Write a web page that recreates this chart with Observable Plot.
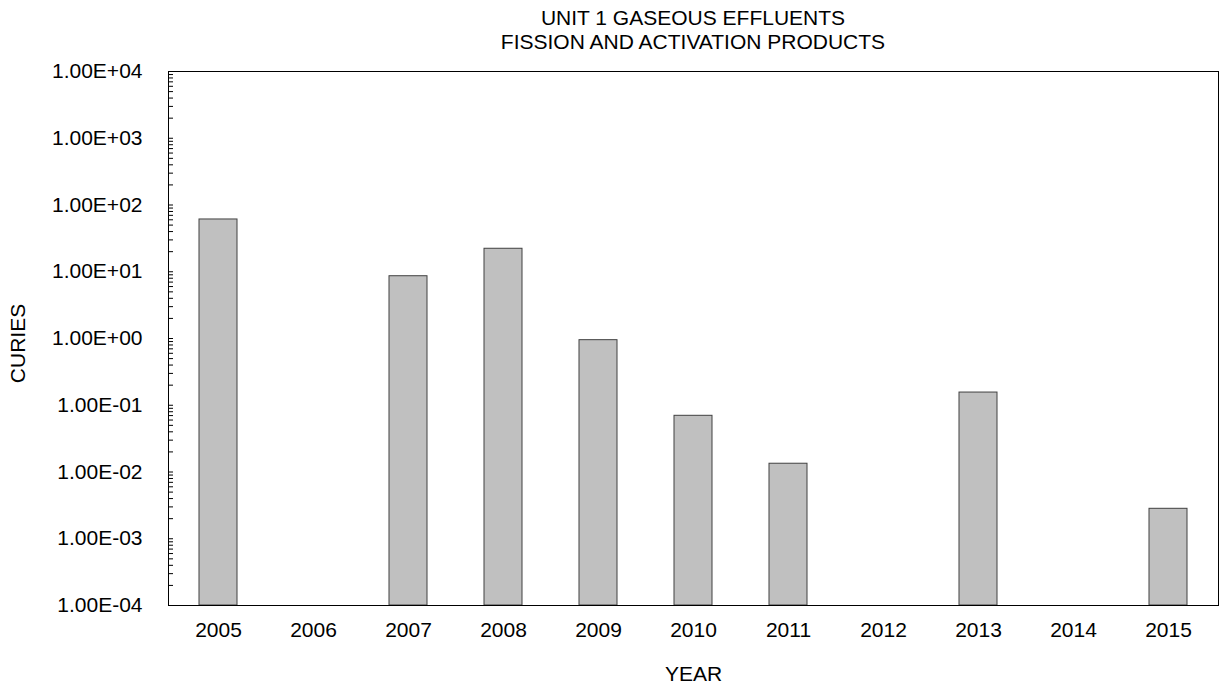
<!DOCTYPE html>
<html><head><meta charset="utf-8">
<script src="https://cdn.jsdelivr.net/npm/d3@7"></script>
<script src="https://cdn.jsdelivr.net/npm/@observablehq/plot@0.6"></script>
<style>
body{margin:0;background:#fff;font-family:"Liberation Sans",Arial,sans-serif;}
#title{box-sizing:border-box;padding:6px 3px 0 168px;height:54px;width:1221px;text-align:center;font-size:21px;line-height:24px;color:#000;}
</style></head><body>
<div id="title">UNIT 1 GASEOUS EFFLUENTS<br>FISSION AND ACTIVATION PRODUCTS</div>
<div id="chart"></div>
<script>
const years = ["2005","2006","2007","2008","2009","2010","2011","2012","2013","2014","2015"];
const curies = [60.7, null, 8.57, 22.1, 0.944, 0.0695, 0.0133, null, 0.155, null, 0.00281];
const yTickValues = [1e-4, 1e-3, 1e-2, 1e-1, 1, 10, 100, 1000, 10000];
const yTickLabels = ["1.00E-04","1.00E-03","1.00E-02","1.00E-01","1.00E+00","1.00E+01","1.00E+02","1.00E+03","1.00E+04"];

const data = years.map((y, i) => ({year: y, value: curies[i]}));
const minor = [];
for (let e = -4; e < 4; e++) for (let k = 1; k <= 9; k++) minor.push(k * Math.pow(10, e));
minor.push(1e4);

const chart = Plot.plot({
  width: 1221, height: 632,
  marginTop: 17, marginLeft: 168, marginRight: 3, marginBottom: 81,
  style: {fontFamily: "'Liberation Sans', Arial, sans-serif", fontSize: "21px", color: "#000", background: "#fff"},
  x: {domain: years, padding: 0.6, paddingOuter: 0.3, label: null},
  y: {type: "log", domain: [1e-4, 1e4], label: null},
  marks: [
    Plot.barY(data.filter(d => d.value != null), {x: "year", y1: 1e-4, y2: "value", fill: "#c0c0c0", stroke: "#404040", strokeWidth: 1}),
    Plot.tickY(minor, {y: d => d, stroke: "#000", insetRight: 1045}),
    Plot.axisY({ticks: yTickValues, tickFormat: d => yTickLabels[yTickValues.indexOf(d)], tickSize: 0, tickPadding: 26, fontSize: 21, label: null}),
    Plot.axisX({tickSize: 0, tickPadding: 17, fontSize: 21, label: null}),
    Plot.frame({stroke: "#000"}),
    Plot.text(["CURIES"], {text: d => d, frameAnchor: "left", textAnchor: "middle", dx: -150, dy: 5, rotate: -90, fontSize: 21}),
    Plot.text(["YEAR"], {text: d => d, frameAnchor: "bottom", textAnchor: "middle", dy: 75, fontSize: 21})
  ]
});
document.getElementById("chart").appendChild(chart);
</script>
</body></html>
